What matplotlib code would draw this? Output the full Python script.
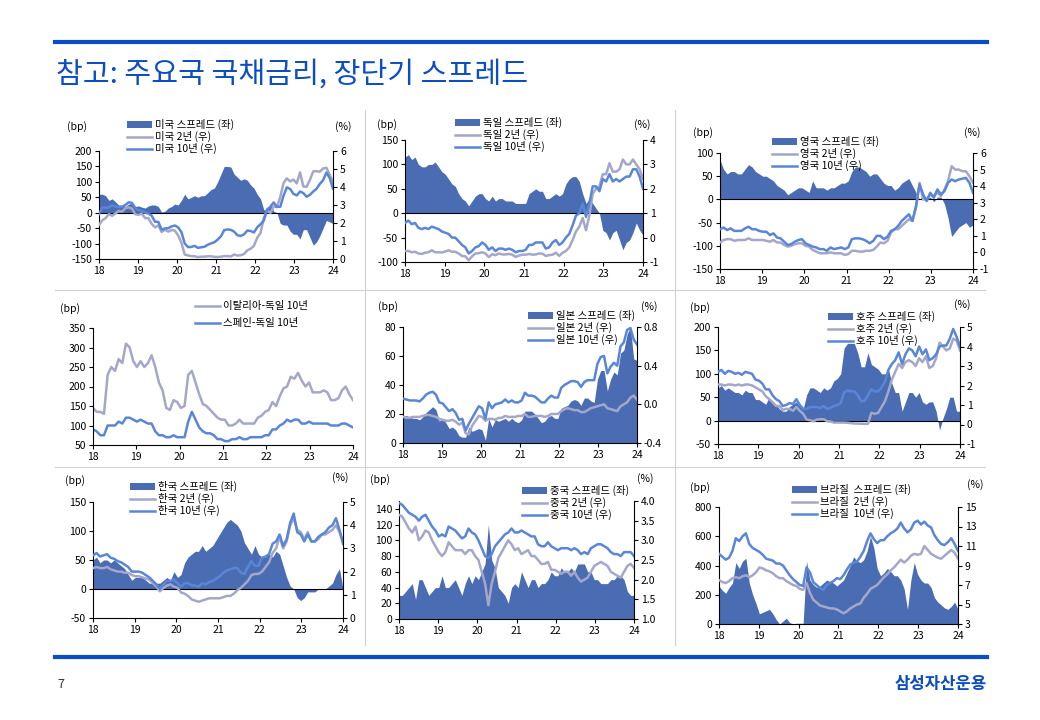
import matplotlib
matplotlib.use("Agg")
import matplotlib.pyplot as plt
from matplotlib.lines import Line2D
from matplotlib.patches import Patch
import numpy as np

plt.rcParams['font.family'] = ['Noto Sans CJK KR', 'DejaVu Sans']
plt.rcParams['axes.unicode_minus'] = False

# ---- data (monthly, Jan 2018 - Dec 2023) ----
years = [18, 19, 20, 21, 22, 23, 24]
year_labels = ['18', '19', '20', '21', '22', '23', '24']

us_spread = [60, 60, 55, 40, 45, 35, 25, 25, 20, 28, 30, 20,
             22, 18, 15, 22, 25, 25, 20, 2, 5, 15, 20, 28,
             25, 40, 60, 45, 50, 55, 50, 55, 55, 65, 75, 80,
             100, 125, 150, 150, 148, 125, 115, 105, 110, 105, 90, 80,
             60, 45, 10, 8, 30, 5, 0, -35, -40, -40, -60, -70,
             -70, -85, -55, -55, -80, -105, -95, -75, -50, -25, -30, -35]
us_2y = [1.90, 2.15, 2.27, 2.49, 2.40, 2.53, 2.67, 2.63, 2.82, 2.87, 2.80, 2.49,
         2.46, 2.52, 2.27, 2.27, 1.95, 1.76, 1.87, 1.50, 1.63, 1.52, 1.61, 1.58,
         1.31, 0.91, 0.25, 0.20, 0.16, 0.15, 0.11, 0.13, 0.13, 0.15, 0.15, 0.12,
         0.11, 0.13, 0.16, 0.16, 0.14, 0.25, 0.19, 0.21, 0.28, 0.48, 0.57, 0.73,
         1.18, 1.44, 2.28, 2.70, 2.56, 2.92, 2.88, 3.45, 4.22, 4.48, 4.31, 4.41,
         4.20, 4.81, 4.03, 4.01, 4.40, 4.87, 4.88, 4.85, 5.03, 5.07, 4.68, 4.25]
us_10y = [2.50, 2.86, 2.84, 2.87, 2.98, 2.91, 2.89, 2.89, 3.00, 3.15, 3.12, 2.83,
          2.71, 2.68, 2.57, 2.53, 2.40, 2.07, 2.06, 1.63, 1.70, 1.71, 1.81, 1.86,
          1.76, 1.50, 0.87, 0.66, 0.67, 0.73, 0.62, 0.65, 0.68, 0.79, 0.87, 0.93,
          1.08, 1.26, 1.61, 1.64, 1.62, 1.52, 1.32, 1.28, 1.37, 1.58, 1.56, 1.47,
          1.76, 1.93, 2.13, 2.75, 2.90, 3.14, 2.90, 2.90, 3.52, 3.98, 3.89, 3.62,
          3.53, 3.75, 3.66, 3.46, 3.57, 3.75, 3.90, 4.17, 4.38, 4.80, 4.50, 3.90]

de_spread = [115, 120, 110, 115, 100, 95, 95, 100, 100, 105, 95, 85,
             80, 70, 60, 55, 40, 30, 25, 15, 25, 35, 40, 40,
             30, 25, 35, 25, 30, 30, 25, 25, 25, 20, 20, 20,
             20, 40, 45, 50, 45, 45, 30, 30, 35, 40, 35, 40,
             60, 70, 75, 75, 65, 40, 20, 30, 20, 10, 0, -35,
             -40, -55, -40, -35, -55, -75, -60, -55, -40, -20, -35, -45]
de_2y = [-0.55, -0.55, -0.60, -0.58, -0.65, -0.67, -0.62, -0.60, -0.52, -0.60, -0.60, -0.61,
         -0.57, -0.52, -0.58, -0.58, -0.65, -0.75, -0.77, -0.93, -0.77, -0.65, -0.64, -0.60,
         -0.65, -0.80, -0.68, -0.72, -0.65, -0.69, -0.69, -0.67, -0.70, -0.79, -0.74, -0.70,
         -0.70, -0.67, -0.70, -0.69, -0.65, -0.66, -0.75, -0.72, -0.70, -0.62, -0.75, -0.62,
         -0.55, -0.40, -0.10, 0.25, 0.45, 0.80, 0.30, 0.90, 1.80, 2.00, 2.10, 2.60,
         2.60, 3.05, 2.70, 2.70, 2.80, 3.20, 3.00, 3.00, 3.20, 3.00, 2.80, 2.40]
de_10y = [0.60, 0.70, 0.55, 0.60, 0.40, 0.35, 0.40, 0.35, 0.45, 0.40, 0.35, 0.25,
          0.20, 0.15, 0.00, 0.00, -0.15, -0.30, -0.40, -0.65, -0.55, -0.40, -0.35, -0.20,
          -0.30, -0.50, -0.40, -0.55, -0.45, -0.45, -0.50, -0.45, -0.50, -0.60, -0.55, -0.55,
          -0.50, -0.30, -0.30, -0.20, -0.20, -0.20, -0.45, -0.40, -0.20, -0.10, -0.30, -0.20,
          0.00, 0.15, 0.50, 0.90, 1.00, 1.40, 0.85, 1.40, 2.10, 2.10, 1.90, 2.40,
          2.30, 2.60, 2.30, 2.40, 2.30, 2.40, 2.50, 2.50, 2.80, 2.80, 2.50, 2.00]

uk_spread = [85, 65, 55, 60, 60, 55, 55, 65, 75, 70, 60, 55,
             50, 50, 45, 40, 30, 25, 20, 10, 15, 20, 25, 25,
             20, 15, 40, 25, 25, 25, 20, 25, 25, 30, 35, 35,
             40, 60, 70, 70, 65, 60, 50, 55, 55, 45, 35, 30,
             30, 20, 25, 35, 40, 45, 30, 15, 0, 10, 0, 5,
             -5, 5, 5, -10, -40, -80, -70, -60, -55, -50, -60, -55]
uk_2y = [0.60, 0.75, 0.80, 0.80, 0.70, 0.75, 0.75, 0.75, 0.85, 0.75, 0.75, 0.75,
         0.75, 0.70, 0.65, 0.75, 0.60, 0.60, 0.45, 0.35, 0.40, 0.50, 0.55, 0.55,
         0.40, 0.35, 0.15, 0.05, -0.05, -0.05, -0.05, 0.00, -0.05, -0.05, -0.05, -0.15,
         -0.10, 0.10, 0.10, 0.05, 0.05, 0.10, 0.10, 0.15, 0.35, 0.60, 0.55, 0.70,
         1.20, 1.40, 1.40, 1.60, 1.80, 2.00, 1.90, 2.70, 4.20, 3.20, 3.20, 3.50,
         3.40, 3.60, 3.40, 3.80, 4.30, 5.20, 5.00, 5.00, 4.90, 4.90, 4.60, 4.20]
uk_10y = [1.40, 1.50, 1.35, 1.45, 1.30, 1.30, 1.30, 1.45, 1.55, 1.40, 1.40, 1.30,
          1.25, 1.25, 1.05, 1.15, 0.90, 0.85, 0.65, 0.45, 0.50, 0.65, 0.75, 0.80,
          0.55, 0.45, 0.35, 0.30, 0.20, 0.20, 0.10, 0.30, 0.20, 0.25, 0.30, 0.20,
          0.30, 0.80, 0.85, 0.85, 0.80, 0.70, 0.55, 0.70, 1.00, 1.00, 0.80, 0.95,
          1.30, 1.40, 1.60, 1.90, 2.10, 2.30, 1.90, 2.80, 4.10, 3.50, 3.10, 3.60,
          3.30, 3.80, 3.50, 3.70, 4.20, 4.40, 4.30, 4.40, 4.45, 4.50, 4.20, 3.60]

it_de_10y = [145, 135, 135, 130, 230, 250, 240, 270, 260, 310, 300, 265,
             250, 265, 250, 260, 280, 250, 210, 190, 145, 140, 165, 160,
             145, 150, 230, 240, 210, 180, 155, 150, 140, 130, 120, 115,
             115, 100, 100, 105, 115, 105, 105, 105, 105, 120, 125, 135,
             140, 160, 150, 175, 195, 200, 225, 220, 235, 215, 200, 210,
             185, 185, 185, 190, 185, 165, 165, 170, 190, 200, 180, 165]
es_de_10y = [90, 85, 75, 75, 100, 100, 100, 110, 105, 120, 120, 115,
             110, 115, 110, 105, 105, 85, 75, 75, 70, 70, 75, 70,
             70, 70, 110, 135, 115, 95, 85, 80, 80, 75, 65, 65,
             60, 60, 65, 65, 70, 65, 65, 70, 70, 70, 70, 75,
             75, 90, 90, 100, 105, 115, 110, 115, 115, 105, 105, 110,
             105, 105, 105, 105, 105, 100, 100, 100, 105, 105, 100, 95]

jp_spread = [18, 19, 18, 17, 17, 16, 18, 21, 23, 25, 23, 15,
             17, 14, 10, 11, 9, 5, 4, 4, 11, 8, 9, 10,
             9, 2, 17, 11, 16, 15, 16, 17, 15, 17, 15, 14,
             16, 22, 22, 22, 20, 17, 14, 15, 18, 19, 17, 17,
             24, 25, 26, 29, 30, 29, 26, 31, 31, 29, 28, 44,
             50, 50, 36, 44, 49, 47, 62, 64, 75, 80, 58, 57]
jp_2y = [-0.13, -0.14, -0.14, -0.13, -0.13, -0.13, -0.12, -0.11, -0.11, -0.12, -0.13, -0.15,
         -0.16, -0.17, -0.17, -0.16, -0.18, -0.21, -0.19, -0.30, -0.31, -0.22, -0.17, -0.12,
         -0.13, -0.17, -0.15, -0.15, -0.16, -0.14, -0.14, -0.12, -0.13, -0.13, -0.13, -0.12,
         -0.12, -0.10, -0.13, -0.13, -0.12, -0.12, -0.12, -0.13, -0.12, -0.10, -0.10, -0.10,
         -0.07, -0.05, -0.04, -0.05, -0.06, -0.06, -0.08, -0.08, -0.06, -0.04, -0.03, -0.02,
         -0.01, 0.00, -0.04, -0.05, -0.06, -0.07, -0.02, 0.00, 0.02, 0.07, 0.09, 0.05]
jp_10y = [0.06, 0.05, 0.04, 0.04, 0.04, 0.03, 0.06, 0.10, 0.12, 0.13, 0.10, 0.02,
          0.01, -0.03, -0.07, -0.05, -0.09, -0.16, -0.15, -0.27, -0.20, -0.14, -0.08, -0.02,
          -0.04, -0.15, 0.02, -0.04, 0.00, 0.01, 0.02, 0.05, 0.02, 0.04, 0.02, 0.02,
          0.04, 0.12, 0.09, 0.09, 0.08, 0.05, 0.02, 0.02, 0.06, 0.09, 0.07, 0.07,
          0.17, 0.20, 0.22, 0.24, 0.24, 0.23, 0.18, 0.23, 0.25, 0.25, 0.25, 0.42,
          0.49, 0.50, 0.32, 0.39, 0.43, 0.40, 0.60, 0.64, 0.77, 0.79, 0.67, 0.62]

au_spread = [70, 75, 65, 70, 65, 60, 60, 55, 65, 60, 60, 45,
             45, 40, 35, 50, 35, 35, 25, 20, 20, 30, 35, 40,
             30, 25, 55, 70, 70, 65, 60, 70, 65, 70, 85, 90,
             100, 155, 165, 165, 165, 145, 115, 115, 145, 120, 115, 110,
             100, 100, 110, 80, 60, 60, 20, 40, 60, 60, 50, 60,
             40, 35, 40, 40, 20, -20, 5, 25, 50, 50, 20, 20]
au_2y = [2.05, 2.05, 2.00, 2.05, 2.05, 2.00, 2.05, 2.00, 2.05, 2.05, 2.00, 1.90,
         1.80, 1.70, 1.45, 1.30, 1.15, 0.95, 0.95, 0.75, 0.80, 0.80, 0.70, 0.90,
         0.70, 0.55, 0.25, 0.22, 0.17, 0.25, 0.27, 0.27, 0.17, 0.15, 0.10, 0.10,
         0.10, 0.10, 0.09, 0.07, 0.05, 0.05, 0.04, 0.03, 0.04, 0.60, 0.55, 0.60,
         0.90, 1.20, 1.70, 2.30, 2.70, 3.10, 2.90, 3.20, 3.30, 3.20, 3.00, 3.40,
         3.20, 3.50, 2.90, 3.00, 3.40, 4.20, 4.00, 3.80, 3.90, 4.40, 4.30, 3.80]
au_10y = [2.70, 2.80, 2.60, 2.75, 2.70, 2.60, 2.65, 2.55, 2.70, 2.65, 2.60, 2.30,
          2.25, 2.10, 1.80, 1.80, 1.50, 1.30, 1.20, 0.95, 1.00, 1.10, 1.05, 1.30,
          1.00, 0.80, 0.80, 0.90, 0.90, 0.90, 0.85, 0.95, 0.80, 0.85, 0.95, 1.00,
          1.10, 1.65, 1.75, 1.70, 1.70, 1.50, 1.20, 1.20, 1.50, 1.80, 1.70, 1.70,
          1.90, 2.20, 2.80, 3.10, 3.30, 3.70, 3.10, 3.60, 3.90, 3.80, 3.50, 4.00,
          3.60, 3.85, 3.30, 3.40, 3.60, 4.00, 4.05, 4.05, 4.40, 4.90, 4.50, 4.00]

kr_spread = [50, 55, 45, 50, 50, 45, 50, 45, 40, 35, 25, 15,
             20, 20, 20, 15, 10, 10, 10, 10, 15, 20, 15, 30,
             20, 25, 45, 55, 60, 65, 65, 75, 65, 70, 75, 85,
             95, 105, 115, 120, 115, 110, 100, 80, 70, 60, 75, 60,
             55, 55, 60, 55, 65, 60, 40, 20, 5, 0, -15, -20,
             -15, -5, -5, -5, 0, 0, 0, 5, 10, 25, 35, 0]
kr_2y = [2.15, 2.20, 2.15, 2.15, 2.20, 2.10, 2.05, 2.00, 2.00, 1.95, 1.95, 1.85,
         1.80, 1.80, 1.75, 1.70, 1.65, 1.50, 1.35, 1.15, 1.30, 1.40, 1.45, 1.35,
         1.30, 1.10, 1.05, 0.95, 0.80, 0.75, 0.70, 0.75, 0.80, 0.85, 0.85, 0.85,
         0.85, 0.90, 0.95, 0.95, 1.05, 1.20, 1.30, 1.45, 1.60, 1.85, 1.90, 1.90,
         2.00, 2.20, 2.40, 2.80, 3.00, 3.50, 3.00, 3.30, 4.00, 4.30, 3.80, 3.70,
         3.40, 3.70, 3.30, 3.30, 3.40, 3.60, 3.60, 3.70, 3.80, 4.00, 3.70, 3.30]
kr_10y = [2.70, 2.80, 2.65, 2.70, 2.75, 2.60, 2.55, 2.45, 2.40, 2.30, 2.20, 2.00,
          2.00, 2.00, 1.95, 1.85, 1.75, 1.60, 1.45, 1.25, 1.45, 1.60, 1.60, 1.65,
          1.50, 1.35, 1.50, 1.50, 1.40, 1.40, 1.35, 1.50, 1.45, 1.55, 1.60, 1.70,
          1.80, 1.95, 2.05, 2.10, 2.15, 2.15, 1.95, 1.90, 2.20, 2.45, 2.25, 2.25,
          2.60, 2.65, 2.75, 3.20, 3.30, 3.60, 3.10, 3.40, 4.10, 4.50, 3.70, 3.60,
          3.30, 3.60, 3.30, 3.30, 3.50, 3.60, 3.70, 3.90, 4.00, 4.30, 3.80, 3.20]

cn_spread = [30, 30, 35, 40, 45, 25, 50, 50, 40, 30, 35, 40,
             40, 55, 40, 40, 45, 50, 40, 30, 45, 55, 45, 55,
             50, 60, 70, 120, 75, 65, 40, 35, 30, 20, 40, 45,
             40, 60, 50, 40, 50, 50, 40, 45, 45, 50, 60, 55,
             55, 65, 60, 60, 65, 60, 70, 70, 70, 60, 60, 50,
             50, 45, 45, 45, 50, 50, 55, 55, 50, 35, 30, 30]
cn_2y = [3.65, 3.60, 3.45, 3.30, 3.20, 3.35, 3.00, 3.10, 3.25, 3.20, 3.00, 2.85,
         2.70, 2.60, 2.70, 2.95, 2.85, 2.75, 2.75, 2.75, 2.65, 2.75, 2.75, 2.60,
         2.50, 2.20, 1.90, 1.35, 1.90, 2.20, 2.55, 2.70, 2.85, 3.00, 2.90, 2.75,
         2.80, 2.65, 2.70, 2.75, 2.60, 2.60, 2.50, 2.40, 2.40, 2.45, 2.25, 2.25,
         2.20, 2.15, 2.20, 2.20, 2.10, 2.20, 2.05, 1.95, 2.00, 2.05, 2.20, 2.35,
         2.40, 2.45, 2.40, 2.35, 2.20, 2.15, 2.10, 2.05, 2.20, 2.35, 2.40, 2.30]
cn_10y = [3.95, 3.90, 3.80, 3.70, 3.65, 3.60, 3.50, 3.60, 3.65, 3.50, 3.35, 3.25,
          3.10, 3.15, 3.10, 3.35, 3.30, 3.25, 3.15, 3.05, 3.10, 3.30, 3.20, 3.15,
          3.00, 2.80, 2.60, 2.55, 2.65, 2.85, 2.95, 3.05, 3.15, 3.20, 3.30, 3.20,
          3.20, 3.25, 3.20, 3.15, 3.10, 3.10, 2.90, 2.85, 2.85, 2.95, 2.85, 2.80,
          2.75, 2.80, 2.80, 2.80, 2.75, 2.80, 2.75, 2.65, 2.70, 2.65, 2.80, 2.85,
          2.90, 2.90, 2.85, 2.80, 2.70, 2.65, 2.65, 2.60, 2.70, 2.70, 2.70, 2.60]

br_spread = [260, 230, 210, 250, 280, 420, 380, 430, 450, 280, 200, 140,
             70, 80, 90, 100, 70, 30, 0, 20, 40, 10, 0, 5,
             5, 5, 430, 300, 270, 250, 260, 280, 300, 290, 280, 260,
             280, 300, 350, 400, 460, 430, 420, 440, 500, 600, 520, 380,
             330, 350, 380, 360, 330, 330, 300, 240, 100, 300, 420, 340,
             300, 280, 280, 250, 180, 150, 130, 110, 100, 120, 150, 100]
br_2y = [7.5, 7.3, 7.2, 7.4, 7.7, 7.8, 7.7, 7.9, 8.0, 7.8, 8.0, 8.3,
         8.8, 8.7, 8.5, 8.4, 8.2, 7.9, 7.7, 7.7, 7.4, 7.2, 7.0, 6.9,
         6.6, 6.5, 7.2, 6.2, 5.5, 5.2, 4.9, 4.8, 4.7, 4.6, 4.6, 4.5,
         4.3, 4.1, 4.3, 4.6, 4.8, 5.0, 5.1, 5.7, 6.1, 6.6, 6.8, 7.0,
         7.4, 7.8, 8.1, 8.5, 8.8, 9.2, 9.6, 9.3, 9.6, 10.0, 10.2, 10.1,
         10.2, 11.0, 10.6, 10.2, 10.0, 9.8, 9.7, 10.0, 10.3, 10.6, 10.3, 9.7]
br_10y = [10.2, 9.9, 9.6, 9.8, 10.5, 11.8, 11.5, 12.0, 12.3, 11.2, 10.8, 10.6,
          10.4, 10.1, 9.7, 9.6, 9.5, 9.2, 9.2, 9.0, 8.5, 8.0, 7.6, 7.3,
          7.0, 6.9, 8.8, 8.3, 7.3, 7.0, 6.7, 6.5, 7.0, 7.2, 7.4, 7.7,
          7.6, 8.0, 8.6, 9.1, 9.3, 9.4, 9.9, 10.5, 11.5, 12.3, 11.7, 11.3,
          11.6, 11.6, 12.0, 12.3, 12.5, 12.8, 13.4, 12.8, 12.4, 12.7, 13.4, 13.6,
          13.2, 13.5, 13.1, 12.9, 12.1, 11.6, 11.2, 11.1, 11.4, 11.8, 11.2, 10.5]

# ---- styling ----
W, H = 1040, 720
SPREAD_C = '#4a6cb3'
Y2_C = '#a4a7c8'
Y10_C = '#5a86d8'
BLUE = '#0b4dc2'
FS = 7.5

x = np.linspace(18, 24, len(us_spread))

fig = plt.figure(figsize=(W / 100, H / 100), dpi=100)


def fx(px):
    return px / W


def fy(py):
    return 1 - py / H


def make_axes(box):
    l, t, r, b = box
    ax = fig.add_axes([fx(l), fy(b), (r - l) / W, (b - t) / H])
    ax.patch.set_alpha(0)
    ax.spines['top'].set_visible(False)
    ax.spines['right'].set_visible(False)
    ax.set_xlim(18, 24)
    ax.set_xticks(years)
    ax.set_xticklabels(year_labels)
    ax.tick_params(labelsize=FS, length=3, width=0.8, pad=2)
    for s in ax.spines.values():
        s.set_linewidth(0.8)
    return ax


def unit_labels(bp_xy, pct_xy=None):
    fig.text(fx(bp_xy[0]), fy(bp_xy[1]), '(bp)', fontsize=FS, ha='center', va='center')
    if pct_xy is not None:
        fig.text(fx(pct_xy[0]), fy(pct_xy[1]), '(%)', fontsize=FS, ha='center', va='center')


def put_legend(ax, handles, labels, xy, spacing=0.1):
    ax.legend(handles, labels, loc='upper left',
              bbox_to_anchor=(fx(xy[0]), fy(xy[1] - 6)), bbox_transform=fig.transFigure,
              frameon=False, fontsize=FS, handlelength=2.4, handleheight=0.6,
              handletextpad=0.3, labelspacing=spacing, borderpad=0, borderaxespad=0)


def spread_panel(box, spread, y2, y10, name, llim, lticks, rlim, rticks, rlabels,
                 leg_xy, bp_xy, pct_xy, zero=True, gap=' '):
    ax = make_axes(box)
    ax.fill_between(x, 0, spread, color=SPREAD_C, lw=0)
    ax.set_ylim(*llim)
    ax.set_yticks(lticks)
    if zero:
        ax.axhline(0, color='black', lw=0.8)
    axr = ax.twinx()
    axr.patch.set_alpha(0)
    axr.spines['top'].set_visible(False)
    axr.spines['left'].set_visible(False)
    axr.spines['bottom'].set_visible(False)
    axr.spines['right'].set_linewidth(0.8)
    axr.plot(x, y2, color=Y2_C, lw=1.8)
    axr.plot(x, y10, color=Y10_C, lw=1.8)
    axr.set_ylim(*rlim)
    axr.set_yticks(rticks)
    axr.set_yticklabels(rlabels)
    axr.tick_params(labelsize=FS, length=3, width=0.8, pad=2)
    handles = [Patch(facecolor=SPREAD_C, edgecolor='none'),
               Line2D([], [], color=Y2_C, lw=1.8),
               Line2D([], [], color=Y10_C, lw=1.8)]
    labels = [f'{name}{gap}스프레드 (좌)', f'{name}{gap}2년 (우)', f'{name}{gap}10년 (우)']
    put_legend(axr, handles, labels, leg_xy)
    unit_labels(bp_xy, pct_xy)


def int_labels(vals):
    return [str(v) for v in vals]


# US
r = [0, 1, 2, 3, 4, 5, 6]
spread_panel((99, 151, 333, 259), us_spread, us_2y, us_10y, '미국',
             (-150, 200), range(-150, 201, 50), (0, 6), r, int_labels(r),
             (127, 125), (77, 127), (343, 127))
# Germany
r = [-1, 0, 1, 2, 3, 4]
spread_panel((405, 140, 643, 262), de_spread, de_2y, de_10y, '독일',
             (-100, 150), range(-100, 151, 50), (-1, 4), r, int_labels(r),
             (455, 123), (387, 125), (642, 125))
# UK
r = [-1, 0, 1, 2, 3, 4, 5, 6]
spread_panel((720, 153, 973, 269), uk_spread, uk_2y, uk_10y, '영국',
             (-150, 100), range(-150, 101, 50), (-1, 6), r, int_labels(r),
             (772, 142), (703, 133), (972, 133))

# Italy / Spain
ax = make_axes((93, 328, 353, 445))
ax.plot(x, it_de_10y, color=Y2_C, lw=1.8)
ax.plot(x, es_de_10y, color=Y10_C, lw=1.8)
ax.set_ylim(50, 350)
ax.set_yticks(range(50, 351, 50))
put_legend(ax, [Line2D([], [], color=Y2_C, lw=1.8), Line2D([], [], color=Y10_C, lw=1.8)],
           ['이탈리아-독일 10년', '스페인-독일 10년'], (195, 307), spacing=0.7)
unit_labels((70, 309))

# Japan
r = [-0.4, 0.0, 0.4, 0.8]
spread_panel((403, 327, 637, 443), jp_spread, jp_2y, jp_10y, '일본',
             (0, 80), range(0, 81, 20), (-0.4, 0.8), r, [f'{v:.1f}' for v in r],
             (528, 316), (388, 307), (649, 307), zero=False)
# Australia
r = [-1, 0, 1, 2, 3, 4, 5]
spread_panel((718, 327, 960, 444), au_spread, au_2y, au_10y, '호주',
             (-50, 200), range(-50, 201, 50), (-1, 5), r, int_labels(r),
             (828, 317), (700, 308), (962, 305))
# Korea
r = [0, 1, 2, 3, 4, 5]
spread_panel((93, 502, 343, 618), kr_spread, kr_2y, kr_10y, '한국',
             (-50, 150), range(-50, 151, 50), (0, 5), r, int_labels(r),
             (130, 487), (75, 481), (340, 478))
# China
r = [1.0, 1.5, 2.0, 2.5, 3.0, 3.5, 4.0]
spread_panel((399, 501, 634, 619), cn_spread, cn_2y, cn_10y, '중국',
             (0, 150), range(0, 141, 20), (1.0, 4.0), r, [f'{v:.1f}' for v in r],
             (522, 491), (380, 480), (645, 479), zero=False)
# Brazil
r = [3, 5, 7, 9, 11, 13, 15]
spread_panel((719, 507, 958, 624), br_spread, br_2y, br_10y, '브라질',
             (0, 800), range(0, 801, 200), (3, 15), r, int_labels(r),
             (792, 490), (700, 488), (975, 485), zero=False, gap='  ')

# ---- page decoration ----
fig.add_artist(Line2D([fx(55), fx(987)], [fy(42), fy(42)], color=BLUE, lw=3))
fig.add_artist(Line2D([fx(55), fx(987)], [fy(657), fy(657)], color=BLUE, lw=3))
for yy in (290, 467):
    fig.add_artist(Line2D([fx(55), fx(985)], [fy(yy), fy(yy)], color='#d0d0d0', lw=0.8))
for xx in (365, 675):
    fig.add_artist(Line2D([fx(xx), fx(xx)], [fy(110), fy(645)], color='#d0d0d0', lw=0.8))

fig.text(fx(56), fy(75), '참고: 주요국 국채금리, 장단기 스프레드', fontsize=21,
         color=BLUE, va='center', ha='left')
fig.text(fx(57), fy(684), '7', fontsize=9, color='#333333', va='center')
fig.text(fx(987), fy(684), '삼성자산운용', fontsize=12, fontweight='bold',
         color=BLUE, va='center', ha='right')

fig.savefig('out.png', dpi=100)
